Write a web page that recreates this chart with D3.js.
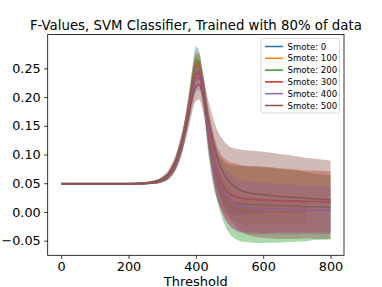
<!DOCTYPE html>
<html><head><meta charset="utf-8">
<script src="https://cdn.jsdelivr.net/npm/d3@7"></script>
<style>body{margin:0;background:#fff}svg{display:block}</style>
</head><body>
<svg id="c" width="382" height="287"></svg>
<script>
const thresholds = [0, 50, 100, 150, 200, 250, 280, 300, 320, 340, 360, 380, 390, 400, 410, 420, 440, 460, 480, 500, 520, 540, 560, 600, 650, 700, 730, 750, 800];
const seriesNames = ["Smote: 0", "Smote: 100", "Smote: 200", "Smote: 300", "Smote: 400", "Smote: 500"];
const colors = ["#1f77b4", "#ff7f0e", "#2ca02c", "#d62728", "#9467bd", "#8c564b"];
const xTicks = [0, 200, 400, 600, 800];
const yTicks = [-0.05, 0.00, 0.05, 0.10, 0.15, 0.20, 0.25];

const smote0Mean = [0.049,0.049,0.049,0.049,0.049,0.050,0.052,0.055,0.063,0.082,0.120,0.190,0.232,0.266,0.258,0.218,0.112,0.052,0.022,0.009,0.004,0.002,0.001,0.000,null,null,null,null,null];
const smote0Std  = [0.002,0.002,0.002,0.002,0.002,0.002,0.003,0.004,0.006,0.010,0.015,0.020,0.022,0.022,0.022,0.022,0.025,0.025,0.020,0.015,0.010,0.008,0.006,0.004,null,null,null,null,null];
const smote100Mean = [0.049,0.049,0.049,0.049,0.049,0.050,0.052,0.056,0.064,0.084,0.122,0.188,0.228,0.258,0.254,0.222,0.125,0.062,0.030,0.014,0.007,0.004,0.002,0.001,0.000,0.000,0.000,null,null];
const smote100Std  = [0.002,0.002,0.002,0.002,0.002,0.002,0.003,0.004,0.006,0.010,0.015,0.020,0.022,0.022,0.022,0.022,0.028,0.032,0.030,0.028,0.026,0.025,0.024,0.022,0.020,0.020,0.020,null,null];
const smote200Mean = [0.049,0.049,0.049,0.049,0.049,0.050,0.052,0.056,0.065,0.085,0.124,0.186,0.224,0.252,0.252,0.224,0.132,0.070,0.038,0.022,0.016,0.014,0.013,0.012,0.011,0.010,0.009,0.009,0.008];
const smote200Std  = [0.002,0.002,0.002,0.002,0.002,0.002,0.003,0.004,0.006,0.010,0.015,0.020,0.022,0.022,0.022,0.024,0.032,0.042,0.052,0.060,0.064,0.066,0.066,0.066,0.064,0.062,0.060,0.058,0.056];
const smote300Mean = [0.049,0.049,0.049,0.049,0.049,0.050,0.052,0.056,0.065,0.086,0.124,0.182,0.216,0.240,0.242,0.220,0.138,0.078,0.046,0.032,0.026,0.023,0.022,0.021,0.020,0.019,0.018,0.018,0.017];
const smote300Std  = [0.002,0.002,0.002,0.002,0.002,0.002,0.003,0.004,0.006,0.010,0.015,0.020,0.022,0.022,0.022,0.024,0.032,0.042,0.050,0.055,0.058,0.058,0.058,0.058,0.056,0.055,0.054,0.054,0.053];
const smote400Mean = [0.049,0.049,0.049,0.049,0.049,0.050,0.052,0.056,0.065,0.086,0.122,0.176,0.208,0.230,0.234,0.214,0.136,0.074,0.040,0.022,0.013,0.009,0.007,0.006,0.005,0.004,0.004,0.003,0.003];
const smote400Std  = [0.002,0.002,0.002,0.002,0.002,0.002,0.003,0.004,0.006,0.010,0.015,0.020,0.022,0.022,0.022,0.024,0.032,0.040,0.044,0.046,0.046,0.046,0.046,0.045,0.044,0.043,0.042,0.042,0.042];
const smote500Mean = [0.049,0.049,0.049,0.049,0.049,0.050,0.052,0.057,0.067,0.088,0.124,0.172,0.200,0.218,0.222,0.206,0.152,0.102,0.070,0.052,0.042,0.036,0.033,0.030,0.027,0.025,0.024,0.023,0.021];
const smote500Std  = [0.002,0.002,0.002,0.002,0.002,0.002,0.003,0.005,0.008,0.012,0.018,0.022,0.024,0.025,0.026,0.028,0.036,0.046,0.056,0.062,0.068,0.072,0.074,0.075,0.074,0.072,0.070,0.070,0.068];

const means = [smote0Mean, smote100Mean, smote200Mean, smote300Mean, smote400Mean, smote500Mean];
const stds  = [smote0Std, smote100Std, smote200Std, smote300Std, smote400Std, smote500Std];

const L = 47.7, R = 344, T = 34.5, B = 255.3;
const x = d3.scaleLinear().domain([-40, 840]).range([L, R]);
const y = d3.scaleLinear().domain([-0.0755, 0.309]).range([B, T]);
const svg = d3.select("#c");
const font = "DejaVu Sans, sans-serif";

svg.append("clipPath").attr("id","clp").append("rect")
  .attr("x", L).attr("y", T).attr("width", R-L).attr("height", B-T);
const plot = svg.append("g").attr("clip-path","url(#clp)");

means.forEach((m, i) => {
  const pts = thresholds.map((t, j) => ({t, m: m[j], s: stds[i][j]}));
  const line = d3.line().defined(d => d.m !== null).x(d => x(d.t)).y(d => y(d.m)).curve(d3.curveMonotoneX);
  const area = d3.area().defined(d => d.m !== null).x(d => x(d.t)).y0(d => y(d.m - d.s)).y1(d => y(d.m + d.s)).curve(d3.curveMonotoneX);
  plot.append("path").attr("d", line(pts)).attr("fill","none").attr("stroke", colors[i]).attr("stroke-width", 1.5);
  plot.append("path").attr("d", area(pts)).attr("fill", colors[i]).attr("fill-opacity", 0.4).attr("stroke","none");
});

// axes
const xAxis = d3.axisBottom(x).tickValues(xTicks).tickSize(3.5).tickPadding(3).tickFormat(d3.format("d"));
const yAxis = d3.axisLeft(y).tickValues(yTicks).tickSize(3.5).tickPadding(3.5).tickFormat(d => d3.format(".2f")(d).replace("-", "\u2212"));
const gx = svg.append("g").attr("transform", `translate(0,${B})`).call(xAxis);
const gy = svg.append("g").attr("transform", `translate(${L},0)`).call(yAxis);
[gx, gy].forEach(g => {
  g.select(".domain").remove();
  g.selectAll("text").attr("font-family", font).attr("font-size", 12.8).attr("fill", "#000");
  g.selectAll("line").attr("stroke", "#000").attr("stroke-width", 0.8);
});
svg.append("rect").attr("x", L).attr("y", T).attr("width", R-L).attr("height", B-T)
  .attr("fill","none").attr("stroke","#000").attr("stroke-width",0.8);

// title and label
svg.append("text").attr("x", (L+R)/2).attr("y", 29.5).attr("text-anchor","middle")
  .attr("font-family", font).attr("font-size", 13.3).text("F-Values, SVM Classifier, Trained with 80% of data");
svg.append("text").attr("x", (L+R)/2).attr("y", 285.5).attr("text-anchor","middle")
  .attr("font-family", font).attr("font-size", 13).text("Threshold");

// legend
const lg = svg.append("g");
lg.append("rect").attr("x", 261).attr("y", 38.5).attr("width", 78.5).attr("height", 74.5).attr("rx", 2)
  .attr("fill", "#fff").attr("fill-opacity", 0.8).attr("stroke", "#ccc").attr("stroke-width", 0.8);
seriesNames.forEach((n, i) => {
  const yy = 46.5 + i * 11.8;
  lg.append("line").attr("x1", 265).attr("x2", 283).attr("y1", yy).attr("y2", yy).attr("stroke", colors[i]).attr("stroke-width", 1.5);
  lg.append("text").attr("x", 287.5).attr("y", yy).attr("dy", "0.35em").attr("font-family", font).attr("font-size", 8.6).text(n);
});
</script>
</body></html>
